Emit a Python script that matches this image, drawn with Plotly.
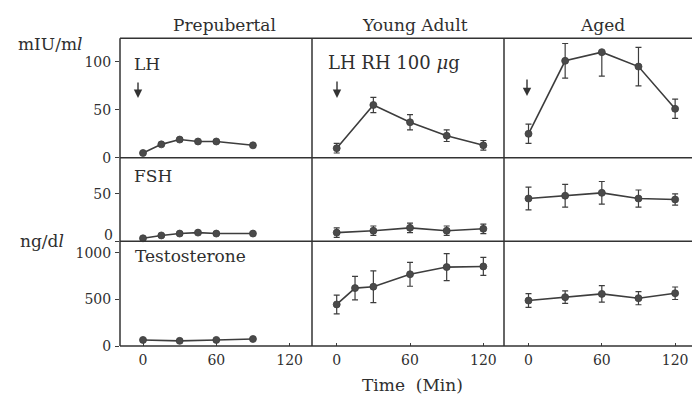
import plotly.graph_objects as go

W, H = 692, 404

# ---------------- data ----------------
groups = ["Prepubertal", "Young Adult", "Aged"]
hormones = ["LH", "FSH", "Testosterone"]

# Prepubertal
pre_t_lh = [0, 15, 30, 45, 60, 90]
pre_lh = [5, 14, 19, 17, 17, 13]
pre_t_fsh = [0, 15, 30, 45, 60, 90]
pre_fsh = [3, 6, 8, 9, 8, 8]
pre_t_t = [0, 30, 60, 90]
pre_tt = [65, 55, 65, 75]

# Young adult
ya_t_lh = [0, 30, 60, 90, 120]
ya_lh = [10, 55, 37, 23, 13]
ya_lh_err = [5, 8, 8, 6, 5]
ya_t_fsh = [0, 30, 60, 90, 120]
ya_fsh = [9, 11, 14, 11, 13]
ya_fsh_err = [5, 5, 5, 5, 5]
ya_t_t = [0, 15, 30, 60, 90, 120]
ya_tt = [445, 620, 635, 768, 845, 852]
ya_tt_err = [100, 125, 170, 128, 144, 96]

# Aged
ag_t_lh = [0, 30, 60, 90, 120]
ag_lh = [25, 101, 110, 95, 51]
ag_lh_err_up = [10, 18, 0, 20, 10]
ag_lh_err_dn = [10, 18, 25, 20, 10]
ag_t_fsh = [0, 30, 60, 90, 120]
ag_fsh = [45, 48, 51, 45, 44]
ag_fsh_err = [12, 12, 12, 9, 6]
ag_t_t = [0, 30, 60, 90, 120]
ag_tt = [487, 523, 558, 512, 565]
ag_tt_err = [74, 67, 88, 70, 67]

x_ticks = [0, 60, 120]
y_ticks = {"LH": [0, 50, 100], "FSH": [0, 50], "Testosterone": [0, 500, 1000]}
y_ranges = {"LH": [0, 124.5], "FSH": [0, 88], "Testosterone": [0, 1123]}

# ---------------- layout geometry (pixels) ----------------
cols_px = [(120, 312), (312, 504), (504, 692)]
zero_px = [143, 336.7, 528.5]
px_per_min = 1.222
rows_px = [(39, 161), (161, 246), (246, 353)]

def fx(x):
    return x / W

def fy(y):
    return 1 - y / H

INK = "#3d3d3d"
TXT = "#2f2f2f"
FONT = "DejaVu Serif"

series = {
    (0, 0): (pre_t_lh, pre_lh, None, None),
    (1, 0): (pre_t_fsh, pre_fsh, None, None),
    (2, 0): (pre_t_t, pre_tt, None, None),
    (0, 1): (ya_t_lh, ya_lh, ya_lh_err, ya_lh_err),
    (1, 1): (ya_t_fsh, ya_fsh, ya_fsh_err, ya_fsh_err),
    (2, 1): (ya_t_t, ya_tt, ya_tt_err, ya_tt_err),
    (0, 2): (ag_t_lh, ag_lh, ag_lh_err_up, ag_lh_err_dn),
    (1, 2): (ag_t_fsh, ag_fsh, ag_fsh_err, ag_fsh_err),
    (2, 2): (ag_t_t, ag_tt, ag_tt_err, ag_tt_err),
}

fig = go.Figure()
layout = {}
for r in range(3):
    for c in range(3):
        idx = r * 3 + c + 1
        xa = "xaxis" if idx == 1 else f"xaxis{idx}"
        ya = "yaxis" if idx == 1 else f"yaxis{idx}"
        xref = "x" if idx == 1 else f"x{idx}"
        yref = "y" if idx == 1 else f"y{idx}"
        l, rr = cols_px[c]
        t, b = rows_px[r]
        xr = [(l - zero_px[c]) / px_per_min, (rr - zero_px[c]) / px_per_min]
        hname = hormones[r]
        layout[xa] = dict(
            domain=[fx(l), fx(rr)], range=xr, anchor=yref,
            showgrid=False, zeroline=False, showline=False,
            tickvals=x_ticks if r == 2 else [],
            ticks="inside" if r == 2 else "", ticklen=3, tickcolor=INK,
            showticklabels=(r == 2), ticklabelstandoff=4,
            tickfont=dict(family=FONT, size=14, color=TXT),
        )
        yt = y_ticks[hname] if c == 0 else []
        ytext = [str(v) for v in yt]
        if hname == "FSH" and c == 0:
            # the "0" of FSH is drawn separately, raised above the divider
            ytext = ["" if v == 0 else str(v) for v in yt]
        layout[ya] = dict(
            domain=[fy(b), fy(t)], range=y_ranges[hname], anchor=xref,
            showgrid=False, zeroline=False, showline=False,
            tickvals=yt, ticktext=ytext,
            ticks="outside" if c == 0 else "", ticklen=4, tickcolor=INK,
            showticklabels=(c == 0), ticklabelstandoff=1,
            tickfont=dict(family=FONT, size=14, color=TXT),
        )
        tt, yy, eu, ed = series[(r, c)]
        err = None
        if eu is not None:
            err = dict(type="data", symmetric=False, array=eu, arrayminus=ed,
                       color=INK, thickness=1.2, width=3)
        fig.add_trace(go.Scatter(
            x=tt, y=yy, xaxis=xref, yaxis=yref, mode="lines+markers",
            line=dict(color=INK, width=1.6),
            marker=dict(color="#4a4a4a", size=7, line=dict(color=INK, width=0.8)),
            error_y=err, showlegend=False, cliponaxis=False,
        ))

shapes = []
line_style = dict(color="#333", width=1.5)
for y in [39, 161, 246, 353]:
    shapes.append(dict(type="line", xref="paper", yref="paper",
                       x0=fx(120), x1=fx(692), y0=fy(y), y1=fy(y), line=line_style))
for x in [120, 312, 504]:
    shapes.append(dict(type="line", xref="paper", yref="paper",
                       x0=fx(x), x1=fx(x), y0=fy(39), y1=fy(353), line=line_style))

annotations = []
def txt(s, x, y, size=17, xanchor="center"):
    annotations.append(dict(text=s, x=fx(x), y=fy(y), xref="paper", yref="paper",
                            showarrow=False, xanchor=xanchor, yanchor="middle",
                            font=dict(family=FONT, size=size, color=TXT)))

txt(groups[0], 224, 25)
txt(groups[1], 415, 25)
txt(groups[2], 602, 25)
txt("mIU/m<i>l</i>", 50, 45, size=17)
txt("ng/d<i>l</i>", 42, 246, size=17)
txt("LH", 132, 65, xanchor="left")
txt("LH\u00a0RH\u00a0100\u00a0<i>μ</i>g", 326, 64, size=18, xanchor="left")
txt("FSH", 132, 180, xanchor="left")
txt("Testosterone", 133, 261, xanchor="left")
txt("Time\u00a0\u00a0(Min)", 412, 393)
# raised "0" tick label of the FSH axis
annotations.append(dict(text=str(y_ticks["FSH"][0]), x=fx(115), y=fy(240), xref="paper", yref="paper",
                        showarrow=False, xanchor="right", yanchor="middle",
                        font=dict(family=FONT, size=14, color=TXT)))

for ax_x, y0, y1 in [(138, 83, 100), (337, 82, 100), (527, 80, 98)]:
    annotations.append(dict(text="", x=fx(ax_x), y=fy(y1), xref="paper", yref="paper",
                            ax=0, ay=-(y1 - y0), axref="pixel", ayref="pixel",
                            showarrow=True, arrowhead=2, arrowsize=1.2,
                            arrowwidth=1.4, arrowcolor="#333"))

fig.update_layout(
    width=W, height=H,
    margin=dict(l=0, r=0, t=0, b=0),
    paper_bgcolor="white", plot_bgcolor="white",
    shapes=shapes, annotations=annotations,
    font=dict(family=FONT, color=TXT),
    **layout,
)

fig.write_html("out.html")
